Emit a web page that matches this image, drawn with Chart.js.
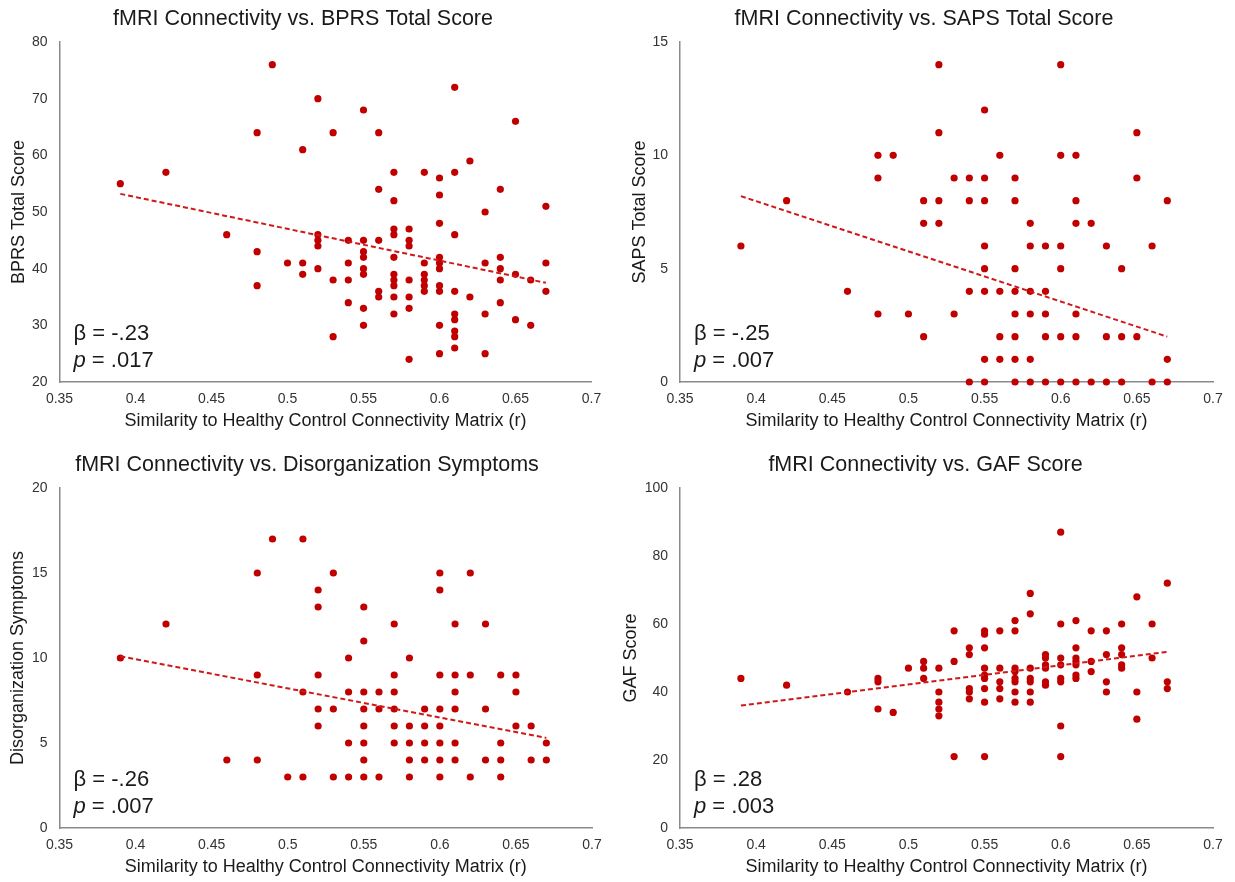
<!DOCTYPE html>
<html>
<head>
<meta charset="utf-8">
<script src="https://cdn.jsdelivr.net/npm/chart.js@4.4.1/dist/chart.umd.min.js"></script>
<style>
html,body{margin:0;padding:0;background:#fff;width:1235px;height:882px;overflow:hidden;position:relative}
.p{position:absolute}
canvas{display:block}
</style>
</head>
<body>
<div class="p" style="left:-5px;top:0px"><canvas id="c1" width="616" height="440"></canvas></div>
<div class="p" style="left:616px;top:0px"><canvas id="c2" width="616" height="440"></canvas></div>
<div class="p" style="left:-1px;top:446px"><canvas id="c3" width="616" height="440"></canvas></div>
<div class="p" style="left:617px;top:446px"><canvas id="c4" width="617" height="440"></canvas></div>
<script>
// ---- data ----
const xLevels = [0.39,0.42,0.46,0.48,0.49,0.50,0.51,0.52,0.53,0.54,0.55,0.56,0.57,0.58,0.59,0.60,0.61,0.62,0.63,0.64,0.65,0.66,0.67];
const bprsScores = [[55],[57],[46],[64,43,37],[76],[41],[61,41,39],[70,46,45,44,40],[64,38,28],[45,41,38,34],[68,45,43,42,40,39,33,30],[64,54,45,36,35],[57,52,47,46,42,39,38,37,35,32],[47,45,44,38,35,33,24],[57,41,39,38,37,36],[56,53,48,42,41,40,37,36,30,25],[72,57,46,36,32,31,29,28,26],[59,35],[50,41,32,25],[54,42,40,38,34],[66,39,31],[38,30],[51,41,36]];
const sapsScores = [[6],[8],[4],[10,9,3],[10],[3],[8,7,2],[14,11,8,7],[9,3],[9,8,4,0],[12,9,8,6,5,4,1,0],[10,4,2,1],[9,8,5,4,3,2,1,0],[7,6,4,3,1,0],[6,4,3,2,0],[14,10,6,5,2,0],[10,8,7,3,2,0],[7,0],[6,2,0],[5,2,0],[11,9,2],[6,0],[8,1,0]];
const disorgScores = [[10],[12],[4],[15,9,4],[17],[3],[17,8,3],[14,13,9,7,6],[15,7,3],[10,8,5,3],[13,11,8,7,6,5,4,3],[8,7,3],[12,9,8,7,6,5],[10,6,5,4,3],[7,6,5,4],[15,14,9,7,6,5,4,3],[12,9,8,7,5,4],[15,9,3],[12,7,4],[9,5,4,3],[9,8,6],[6,4],[5,4]];
const gafScores = [[44],[42],[40],[44,43,35],[34],[47],[49,47,44],[47,40,37,35,33],[58,49,21],[53,51,41,40,38],[58,57,53,47,45,44,41,37,21],[58,47,43,41,38],[61,58,47,46,44,43,40,37],[69,63,47,44,43,40,37],[51,50,48,47,43,42],[87,60,50,48,44,43,30,21],[61,53,50,49,48,45,44],[58,49,46],[58,51,43,40],[60,53,51,48,47],[68,40,32],[60,50],[72,43,41]];

const trendX = [0.39, 0.67];
const bprsTrend = [53.2, 37.5];
const sapsTrend = [8.2, 2.0];
const disorgTrend = [10.1, 5.3];
const gafTrend = [36.0, 51.8];

const xTicks = [0.35,0.4,0.45,0.5,0.55,0.6,0.65,0.7];
const bprsTicks = [20,30,40,50,60,70,80];
const sapsTicks = [0,5,10,15];
const disorgTicks = [0,5,10,15,20];
const gafTicks = [0,20,40,60,80,100];

const titles = ['fMRI Connectivity vs. BPRS Total Score','fMRI Connectivity vs. SAPS Total Score','fMRI Connectivity vs. Disorganization Symptoms','fMRI Connectivity vs. GAF Score'];
const yTitles = ['BPRS Total Score','SAPS Total Score','Disorganization Symptoms','GAF Score'];
const xTitle = 'Similarity to Healthy Control Connectivity Matrix (r)';
const betas = ['-.23','-.25','-.26','.28'];
const pvals = ['.017','.007','.007','.003'];

// ---- rendering ----
const FONT = '"Liberation Sans", Arial, Helvetica, sans-serif';
Chart.defaults.font.family = FONT;

function flatten(groups){
  const pts = [];
  groups.forEach((ys,i)=>ys.forEach(y=>pts.push({x:xLevels[i], y:y})));
  return pts;
}

function makePanel(id, idx, scores, trend, yTicks, layout){
  const statsPlugin = {
    id: 'stats'+idx,
    afterDatasetsDraw(chart){
      const ctx = chart.ctx, a = chart.chartArea;
      ctx.save();
      ctx.fillStyle = '#1a1a1a';
      ctx.textBaseline = 'alphabetic';
      ctx.textAlign = 'left';
      const x0 = a.left + 14;
      ctx.font = '22px ' + FONT;
      ctx.fillText('\u03B2 = ' + betas[idx], x0, a.bottom - 42.5);
      ctx.font = 'italic 22px ' + FONT;
      ctx.fillText('p', x0, a.bottom - 15.5);
      const w = ctx.measureText('p').width;
      ctx.font = '22px ' + FONT;
      ctx.fillText(' = ' + pvals[idx], x0 + w, a.bottom - 15.5);
      ctx.restore();
    }
  };
  new Chart(document.getElementById(id), {
    type: 'scatter',
    data: {
      datasets: [
        {
          type: 'line',
          data: trendX.map((x,i)=>({x:x, y:trend[i]})),
          borderColor: '#d01818',
          borderWidth: 2,
          borderDash: [5,3],
          pointRadius: 0,
          fill: false
        },
        {
          data: flatten(scores),
          backgroundColor: '#c00000',
          borderWidth: 0,
          pointRadius: 3.6,
          pointHoverRadius: 3.6,
          clip: false
        }
      ]
    },
    options: {
      responsive: false,
      animation: false,
      events: [],
      layout: {padding: {left:0, right:0, top:0, bottom:0}},
      plugins: {
        legend: {display:false},
        tooltip: {enabled:false},
        title: {
          display: true,
          text: titles[idx],
          color: '#1a1a1a',
          font: {size: 21.5, weight: 'normal', family: FONT},
          padding: {top: 6.5, bottom: 9.7}
        }
      },
      scales: {
        x: {
          type: 'linear',
          min: 0.35, max: 0.7,
          afterBuildTicks: s => { s.ticks = xTicks.map(v=>({value:v})); },
          ticks: {
            autoSkip: false, maxRotation: 0, padding: 9,
            color: '#333', font: {size: 14},
            callback: v => String(v)
          },
          grid: {display:false, drawTicks:false},
          border: {display:true, color:'#8a8a8a', width:1.5},
          title: {display:true, text:xTitle, color:'#1a1a1a', font:{size:18}, padding:{top:0,bottom:8.2}},
          afterFit: s => { s.height = 58; }
        },
        y: {
          type: 'linear',
          min: yTicks[0], max: yTicks[yTicks.length-1],
          afterBuildTicks: s => { s.ticks = yTicks.map(v=>({value:v})); },
          ticks: {autoSkip:false, padding: 12, color:'#333', font:{size:14}},
          grid: {display:false, drawTicks:false},
          border: {display:true, color:'#8a8a8a', width:1.5},
          title: {display:true, text:yTitles[idx], color:'#1a1a1a', font:{size:18}, padding:{top:layout.yTitlePad,bottom:0}},
          afterFit: s => { s.width = layout.left; }
        },
        yR: {
          position: 'right',
          display: true,
          ticks: {display:false},
          grid: {display:false, drawTicks:false},
          border: {display:false},
          afterFit: s => { s.width = layout.right; }
        }
      }
    },
    plugins: [statsPlugin]
  });
}

makePanel('c1', 0, bprsScores, bprsTrend, bprsTicks, {left:64.5, right:19.5, yTitlePad:13.2});
makePanel('c2', 1, sapsScores, sapsTrend, sapsTicks, {left:64, right:19, yTitlePad:13.2});
makePanel('c3', 2, disorgScores, disorgTrend, disorgTicks, {left:60.5, right:23, yTitlePad:8.6});
makePanel('c4', 3, gafScores, gafTrend, gafTicks, {left:63, right:21, yTitlePad:3.2});
</script>
</body>
</html>
